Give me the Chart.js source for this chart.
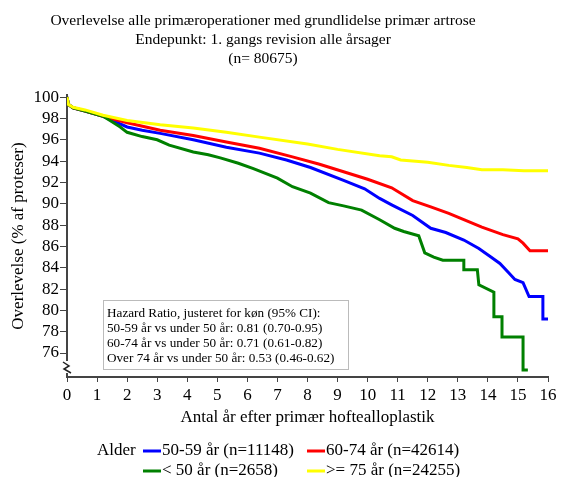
<!DOCTYPE html>
<html>
<head>
<meta charset="utf-8">
<script src="https://cdn.jsdelivr.net/npm/chart.js@4"></script>
<style>
  html, body { margin: 0; padding: 0; background: #fff; }
  #wrap { width: 561px; height: 477px; }
</style>
</head>
<body>
<div id="wrap"><canvas id="myChart" width="561" height="477"></canvas></div>
<script>
const titleLines = [
    'Overlevelse alle primæroperationer med grundlidelse primær artrose',
    'Endepunkt: 1. gangs revision alle årsager',
    '(n= 80675)'
];
const xTitle = 'Antal år efter primær hoftealloplastik';
const yTitle = 'Overlevelse (% af proteser)';
const yTicks = [76, 78, 80, 82, 84, 86, 88, 90, 92, 94, 96, 98, 100];
const legendTitle = 'Alder';
const hazardLines = [
    'Hazard Ratio, justeret for køn (95% CI):',
    '50-59 år vs under 50 år: 0.81 (0.70-0.95)',
    '60-74 år vs under 50 år: 0.71 (0.61-0.82)',
    'Over 74 år vs under 50 år: 0.53 (0.46-0.62)'
];

// 50-59 år
const blueT = [0, 0.05, 0.2, 0.6, 1.2, 2, 2.5, 3.1, 4.2, 5.3, 6.4, 7.3, 8.1, 9.2, 9.9, 10.4, 10.8, 11.5, 12.1, 12.6, 13.2, 13.7, 14.1, 14.4, 14.7, 14.9, 15.17, 15.37, 15.83, 15.83, 16];
const blueS = [100, 99.3, 99.0, 98.7, 98.2, 97.2, 96.9, 96.6, 96.0, 95.3, 94.75, 94.1, 93.4, 92.2, 91.4, 90.5, 89.9, 88.9, 87.7, 87.3, 86.6, 85.8, 85.0, 84.4, 83.5, 82.9, 82.6, 81.3, 81.3, 79.2, 79.2];
// 60-74 år
const redT = [0, 0.05, 0.2, 0.6, 1.2, 2, 3.1, 4.2, 5.3, 6.4, 7.5, 8.4, 9.2, 10, 10.8, 11.5, 12.1, 12.7, 13.2, 13.8, 14.5, 15, 15.17, 15.4, 16];
const redS = [100, 99.3, 99.0, 98.7, 98.2, 97.6, 96.9, 96.4, 95.8, 95.2, 94.4, 93.7, 93.0, 92.3, 91.5, 90.3, 89.7, 89.1, 88.5, 87.8, 87.1, 86.7, 86.3, 85.6, 85.6];
// < 50 år
const greenT = [0, 0.05, 0.2, 0.6, 1.2, 1.43, 1.77, 2, 2.5, 3, 3.4, 4.2, 4.7, 5.1, 5.7, 6.2, 7, 7.5, 8.1, 8.7, 9.2, 9.8, 10.4, 10.9, 11.2, 11.7, 11.9, 12.2, 12.5, 13.2, 13.2, 13.65, 13.7, 14.2, 14.2, 14.47, 14.47, 15.17, 15.17, 15.33];
const greenS = [100, 99.3, 99.0, 98.7, 98.2, 97.8, 97.2, 96.7, 96.3, 96.0, 95.5, 94.85, 94.6, 94.3, 93.8, 93.3, 92.4, 91.6, 91.0, 90.1, 89.8, 89.4, 88.5, 87.7, 87.4, 87.0, 85.4, 85.0, 84.7, 84.7, 83.8, 83.8, 82.4, 81.7, 79.4, 79.4, 77.5, 77.5, 74.4, 74.4];
// >= 75 år
const yellowT = [0, 0.05, 0.2, 0.6, 1.2, 2, 3.1, 4.2, 5.3, 6.4, 8, 9, 10.4, 10.8, 11.1, 12, 12.7, 13.3, 13.8, 14.5, 15.2, 16];
const yellowS = [100, 99.3, 99.05, 98.8, 98.3, 97.8, 97.4, 97.1, 96.7, 96.25, 95.6, 95.1, 94.5, 94.4, 94.1, 93.9, 93.6, 93.4, 93.2, 93.2, 93.1, 93.1];

const serif = "'Liberation Serif', 'Times New Roman', serif";

function pts(t, s) {
    return t.map((v, i) => ({ x: v, y: s[i] }));
}

function line(label, t, s, color, order) {
    return {
        label: label,
        data: pts(t, s),
        borderColor: color,
        backgroundColor: color,
        borderWidth: 3,
        pointRadius: 0,
        tension: 0,
        order: order
    };
}

const extras = {
    id: 'extras',
    afterDraw(chart) {
        const ctx = chart.ctx;
        const ds = chart.data.datasets;
        ctx.save();
        ctx.textBaseline = 'middle';

        // title, centred a bit left of the canvas middle as in the original
        ctx.fillStyle = '#000';
        ctx.textAlign = 'center';
        ctx.font = '15.5px ' + serif;
        titleLines.forEach((txt, i) => ctx.fillText(txt, 263, 21 + i * 19));

        // axis break on the y axis
        const xa = chart.chartArea.left;
        ctx.fillStyle = '#fff';
        ctx.fillRect(xa - 3, 361, 7, 12);
        ctx.strokeStyle = '#222';
        ctx.lineWidth = 1.5;
        ctx.beginPath();
        ctx.moveTo(xa - 4, 362);
        ctx.lineTo(xa + 2, 366);
        ctx.lineTo(xa - 3, 369);
        ctx.lineTo(xa + 4, 373);
        ctx.stroke();

        // hazard ratio box
        ctx.fillStyle = '#fff';
        ctx.fillRect(103, 300, 245, 69);
        ctx.strokeStyle = '#bbb';
        ctx.lineWidth = 1;
        ctx.strokeRect(103.5, 300.5, 245, 69);
        ctx.fillStyle = '#000';
        ctx.font = '13.2px ' + serif;
        ctx.textAlign = 'left';
        hazardLines.forEach((txt, i) => ctx.fillText(txt, 107, 314 + i * 15));

        // legend
        ctx.font = '17px ' + serif;
        ctx.fillText(legendTitle, 97, 451);
        const slots = [[0, 143, 451], [1, 307, 451], [2, 143, 471], [3, 307, 471]];
        slots.forEach(([i, x, y]) => {
            ctx.strokeStyle = ds[i].borderColor;
            ctx.lineWidth = 3;
            ctx.beginPath();
            ctx.moveTo(x, y);
            ctx.lineTo(x + 18, y);
            ctx.stroke();
            ctx.fillStyle = '#000';
            ctx.fillText(ds[i].label, x + 19, y);
        });
        ctx.restore();
    }
};

new Chart(document.getElementById('myChart'), {
    type: 'line',
    data: {
        datasets: [
            line('50-59 år (n=11148)', blueT, blueS, '#0000ff', 4),
            line('60-74 år (n=42614)', redT, redS, '#ff0000', 3),
            line('< 50 år (n=2658)', greenT, greenS, '#008000', 2),
            line('>= 75 år (n=24255)', yellowT, yellowS, '#ffff00', 1)
        ]
    },
    options: {
        responsive: false,
        animation: false,
        layout: { padding: { left: 0, right: 13, top: 95, bottom: 49 } },
        plugins: {
            legend: { display: false },
            tooltip: { enabled: false },
            title: { display: false }
        },
        scales: {
            x: {
                type: 'linear',
                min: 0,
                max: 16,
                afterFit: (s) => { s.height = 51; },
                ticks: { stepSize: 1, color: '#000', padding: 3, font: { family: serif, size: 17 } },
                grid: { display: true, drawOnChartArea: false, tickLength: 5, color: '#444' },
                border: { display: true, color: '#444', width: 2 },
                title: {
                    display: true,
                    text: xTitle,
                    color: '#000',
                    font: { family: serif, size: 17, lineHeight: 1.2 },
                    padding: { top: 0, bottom: 0 }
                }
            },
            y: {
                type: 'linear',
                min: 73.75,
                max: 100.2,
                afterFit: (s) => { s.width = 67; },
                afterBuildTicks: (s) => { s.ticks = yTicks.map(v => ({ value: v })); },
                ticks: { color: '#000', padding: 1, font: { family: serif, size: 17 } },
                grid: { display: true, drawOnChartArea: false, tickLength: 7, color: '#444' },
                border: { display: true, color: '#444', width: 2 },
                title: {
                    display: true,
                    text: yTitle,
                    color: '#000',
                    font: { family: serif, size: 17, lineHeight: 1.2 },
                    padding: { top: 8, bottom: 0 }
                }
            }
        }
    },
    plugins: [extras]
});
</script>
</body>
</html>
